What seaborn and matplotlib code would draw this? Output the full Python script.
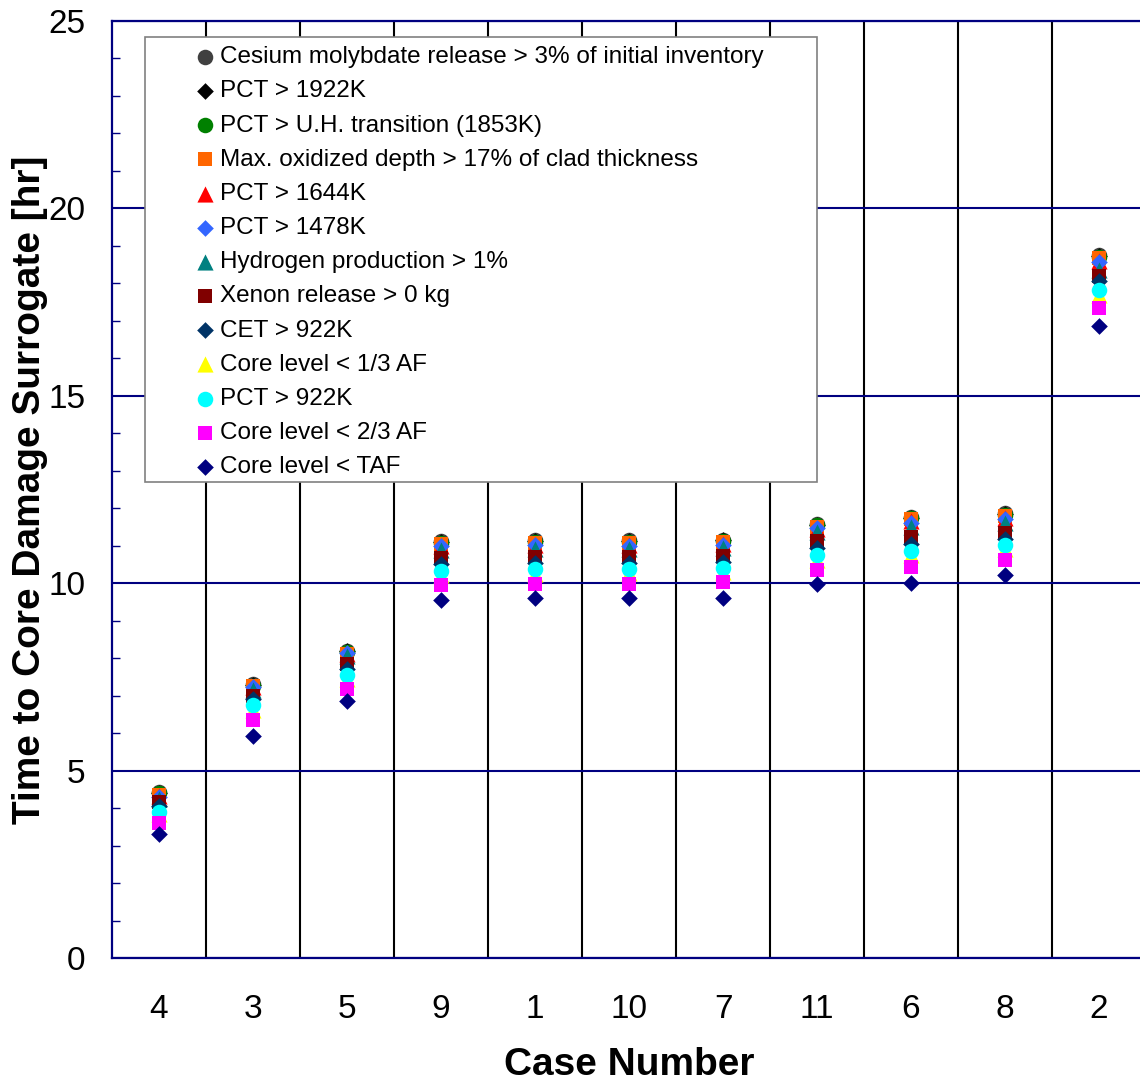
import numpy as np
import pandas as pd
import matplotlib
matplotlib.use("Agg")
import matplotlib.pyplot as plt
from matplotlib.patches import Rectangle
from matplotlib.ticker import MultipleLocator
import seaborn as sns

# Case numbers, in the order they appear along the x axis
cases = ["4", "3", "5", "9", "1", "10", "7", "11", "6", "8", "2"]

# Time (hr) at which each core-damage surrogate is reached, per case
cesium_release = [4.42, 7.30, 8.20, 11.12, 11.15, 11.14, 11.16, 11.58, 11.77, 11.86, 18.75]
pct_1922 = [4.40, 7.28, 8.18, 11.10, 11.13, 11.12, 11.14, 11.56, 11.75, 11.84, 18.72]
pct_uh_transition = [4.39, 7.27, 8.17, 11.08, 11.11, 11.10, 11.12, 11.54, 11.74, 11.82, 18.70]
max_oxidized_depth = [4.36, 7.25, 8.12, 11.05, 11.08, 11.07, 11.09, 11.50, 11.72, 11.79, 18.68]
pct_1644 = [4.33, 7.22, 8.10, 11.00, 11.03, 11.02, 11.05, 11.45, 11.65, 11.74, 18.60]
pct_1478 = [4.30, 7.22, 8.13, 10.98, 11.02, 11.00, 11.03, 11.48, 11.60, 11.72, 18.57]
hydrogen_production = [4.25, 7.15, 8.05, 10.88, 10.92, 10.90, 10.93, 11.37, 11.50, 11.60, 18.36]
xenon_release = [4.15, 7.00, 7.85, 10.67, 10.70, 10.69, 10.72, 11.12, 11.23, 11.34, 18.20]
cet_922 = [4.05, 6.90, 7.72, 10.50, 10.55, 10.53, 10.56, 10.95, 11.05, 11.18, 18.05]
core_level_third = [3.85, 6.62, 7.45, 10.22, 10.25, 10.27, 10.30, 10.62, 10.75, 10.90, 17.70]
pct_922 = [3.90, 6.75, 7.55, 10.33, 10.37, 10.37, 10.40, 10.75, 10.86, 11.02, 17.82]
core_level_two_thirds = [3.60, 6.35, 7.18, 9.95, 9.98, 9.98, 10.02, 10.35, 10.43, 10.62, 17.34]
core_level_taf = [3.32, 5.92, 6.85, 9.55, 9.60, 9.60, 9.60, 9.98, 10.00, 10.22, 16.87]

series_names = [
    "Cesium molybdate release > 3% of initial inventory",
    "PCT > 1922K",
    "PCT > U.H. transition (1853K)",
    "Max. oxidized depth > 17% of clad thickness",
    "PCT > 1644K",
    "PCT > 1478K",
    "Hydrogen production > 1%",
    "Xenon release > 0 kg",
    "CET > 922K",
    "Core level < 1/3 AF",
    "PCT > 922K",
    "Core level < 2/3 AF",
    "Core level < TAF",
]
series_values = [
    cesium_release, pct_1922, pct_uh_transition, max_oxidized_depth, pct_1644,
    pct_1478, hydrogen_production, xenon_release, cet_922, core_level_third,
    pct_922, core_level_two_thirds, core_level_taf,
]

# Marker styling for each surrogate: (color, marker, area)
styles = [
    ("#404040", "o", 125),
    ("#000000", "D", 72),
    ("#008000", "o", 125),
    ("#FF6600", "s", 115),
    ("#FF0000", "^", 135),
    ("#3366FF", "D", 72),
    ("#008080", "^", 135),
    ("#800000", "s", 115),
    ("#003366", "D", 72),
    ("#FFFF00", "^", 135),
    ("#00FFFF", "o", 125),
    ("#FF00FF", "s", 115),
    ("#000080", "D", 72),
]

df = pd.DataFrame({
    "case": np.tile(cases, len(series_names)),
    "surrogate": np.repeat(series_names, len(cases)),
    "hours": np.concatenate(series_values),
})

sns.set_theme(style="white")
plt.rcParams["font.family"] = ["Liberation Sans", "DejaVu Sans"]
plt.rcParams["text.color"] = "black"
plt.rcParams["axes.labelcolor"] = "black"
plt.rcParams["xtick.color"] = "black"
plt.rcParams["ytick.color"] = "black"

fig = plt.figure(figsize=(11.4, 10.83), dpi=100)
ax = fig.add_axes([112 / 1140, 125 / 1083, 1034 / 1140, 937 / 1083])

for name, (color, marker, size) in zip(series_names, styles):
    sub = df[df["surrogate"] == name]
    sns.scatterplot(data=sub, x="case", y="hours", color=color, marker=marker,
                    s=size, linewidth=0, label=name, ax=ax, zorder=3)

navy = "#000080"
ax.set_xlim(-0.5, len(cases) - 0.5)
ax.set_ylim(0, 25)
ax.yaxis.set_major_locator(MultipleLocator(5))
ax.yaxis.set_minor_locator(MultipleLocator(1))
ax.set_xticks(np.arange(len(cases)))
ax.set_xticklabels(cases)
ax.set_xticks(np.arange(0.5, len(cases) - 0.5, 1), minor=True)

ax.grid(False)
ax.grid(which="major", axis="y", color=navy, linewidth=1.5, zorder=1)
ax.grid(which="minor", axis="x", color="black", linewidth=1.5, zorder=1)
ax.set_axisbelow(True)

for side in ["left", "bottom", "top", "right"]:
    ax.spines[side].set_color(navy)
    ax.spines[side].set_linewidth(1.6)

ax.tick_params(axis="both", which="major", length=0, labelsize=24,
               labelcolor="black")
ax.tick_params(axis="x", which="major", pad=26)
ax.tick_params(axis="y", which="major", pad=19)
ax.tick_params(axis="y", which="minor", direction="in", length=6, width=1,
               color=navy, left=True)
ax.tick_params(axis="x", which="minor", length=0)

ax.set_xlabel("Case Number", fontsize=28, fontweight="bold", labelpad=16)
ax.set_ylabel("Time to Core Damage Surrogate [hr]", fontsize=28,
              fontweight="bold", labelpad=0)

# Legend panel: a plain gray-edged box behind the key
ax.add_patch(Rectangle((0.0319, 0.508), 0.6499, 0.475, transform=ax.transAxes,
                       facecolor="white", edgecolor="#808080", linewidth=1.2,
                       zorder=4))
leg = ax.legend(loc="upper left", bbox_to_anchor=(0.0806, 0.973),
                frameon=False, fontsize=17.5, handlelength=0.8,
                handletextpad=0.22, borderpad=0, borderaxespad=0,
                labelspacing=0.5)
leg.set_zorder(5)

fig.savefig("out.png", dpi=100)
